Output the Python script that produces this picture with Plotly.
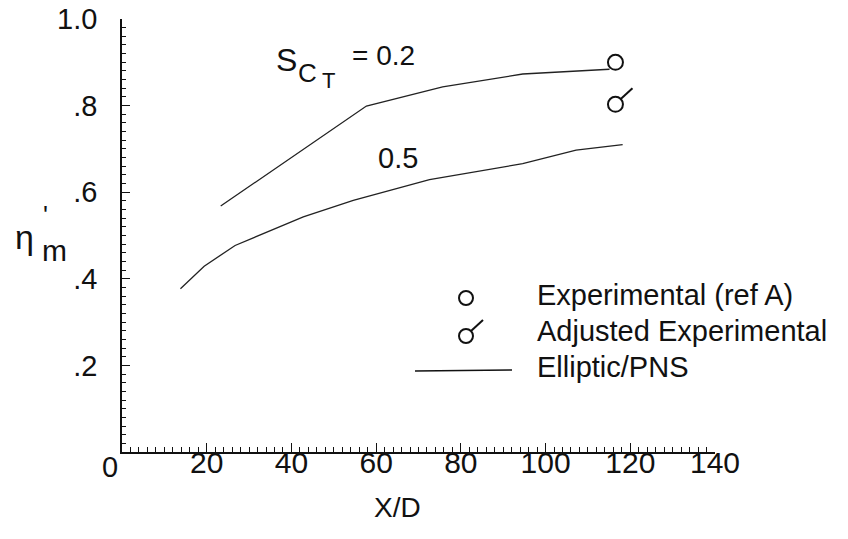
import plotly.graph_objects as go

# ---------------- data ----------------
xd_02 = [23.3, 57.7, 75.7, 94.6, 115.1]
eta_02 = [0.568, 0.799, 0.843, 0.873, 0.884]

xd_05 = [13.8, 19.4, 26.7, 42.8, 54.6, 72.6, 94.6, 107.2, 118.2]
eta_05 = [0.377, 0.429, 0.477, 0.543, 0.581, 0.629, 0.666, 0.697, 0.710]

exp_x = [116.5]
exp_y = [0.900]
adj_x = [116.5]
adj_y = [0.803]

x_tickvals = [20, 40, 60, 80, 100, 120, 140]
x_ticktext = ["20", "40", "60", "80", "100", "120", "140"]
y_tickvals = [0.2, 0.4, 0.6, 0.8, 1.0]
y_ticktext = [".2", ".4", ".6", ".8", "1.0"]

legend_labels = ["Experimental (ref A)", "Adjusted Experimental", "Elliptic/PNS"]

# ---------------- layout constants ----------------
W, H = 848, 539
L, R, T, B = 122, 715, 19, 452
FONT = "Liberation Sans, Arial, Helvetica, sans-serif"
INK = "#111111"


def px(xp):
    return (xp - L) / (R - L)


def py(yp):
    return (B - yp) / (B - T)


fig = go.Figure()

fig.add_trace(go.Scatter(x=xd_02, y=eta_02, mode="lines",
                         line=dict(color="#222222", width=1.3),
                         showlegend=False, hoverinfo="skip"))
fig.add_trace(go.Scatter(x=xd_05, y=eta_05, mode="lines",
                         line=dict(color="#222222", width=1.3),
                         showlegend=False, hoverinfo="skip"))
fig.add_trace(go.Scatter(x=exp_x, y=exp_y, mode="markers",
                         marker=dict(symbol="circle-open", size=15,
                                     color=INK, line=dict(width=2, color=INK)),
                         showlegend=False))
fig.add_trace(go.Scatter(x=adj_x, y=adj_y, mode="markers",
                         marker=dict(symbol="circle-open", size=15,
                                     color=INK, line=dict(width=2, color=INK)),
                         showlegend=False))

shapes = []
# flag tails on adjusted points
for xa, ya in zip(adj_x, adj_y):
    shapes.append(dict(type="line", xref="x", yref="y",
                       xsizemode="pixel", ysizemode="pixel",
                       xanchor=xa, yanchor=ya,
                       x0=5, y0=5, x1=17, y1=16,
                       line=dict(color=INK, width=2)))

# manual legend
leg_sym_x = 466
leg_rows_y = [298, 336, 371]
leg_text_x = 535
leg_text_y = [295, 331, 367]

shapes.append(dict(type="circle", xref="paper", yref="paper",
                   xsizemode="pixel", ysizemode="pixel",
                   xanchor=px(leg_sym_x), yanchor=py(leg_rows_y[0]),
                   x0=-7, x1=7, y0=-7, y1=7,
                   line=dict(color=INK, width=2)))
shapes.append(dict(type="circle", xref="paper", yref="paper",
                   xsizemode="pixel", ysizemode="pixel",
                   xanchor=px(leg_sym_x), yanchor=py(leg_rows_y[1]),
                   x0=-7, x1=7, y0=-7, y1=7,
                   line=dict(color=INK, width=2)))
shapes.append(dict(type="line", xref="paper", yref="paper",
                   xsizemode="pixel", ysizemode="pixel",
                   xanchor=px(leg_sym_x), yanchor=py(leg_rows_y[1]),
                   x0=5, y0=5, x1=17, y1=16,
                   line=dict(color=INK, width=2)))
shapes.append(dict(type="line", xref="paper", yref="paper",
                   x0=px(415), x1=px(512), y0=py(leg_rows_y[2]), y1=py(leg_rows_y[2] - 1),
                   line=dict(color=INK, width=1.5)))

annotations = []
for lab, yy in zip(legend_labels, leg_text_y):
    annotations.append(dict(text=lab, xref="paper", yref="paper",
                            x=px(leg_text_x), y=py(yy), xanchor="left", yanchor="middle",
                            showarrow=False, font=dict(family=FONT, size=29, color=INK)))


def txt(s, xp, yp, size):
    annotations.append(dict(text=s, xref="paper", yref="paper", x=px(xp), y=py(yp),
                            xanchor="center", yanchor="middle", showarrow=False,
                            font=dict(family=FONT, size=size, color=INK)))


# curve labels  S_{C_T} = 0.2  and 0.5
txt("S", 286, 60, 32)
txt("C", 307, 73, 26)
txt("T", 328, 80, 22)
txt("= 0.2", 383, 55, 28)
txt("0.5", 398, 158, 29)

# y-axis title  eta'_m
txt("\u03b7", 24, 237, 34)
txt("'", 45, 215, 26)
txt("m", 54, 250, 30)

# x-axis title and the origin label
txt("X/D", 397, 507, 28)
txt("0", 110, 467, 29)

fig.update_layout(
    width=W, height=H,
    margin=dict(l=L, r=W - R, t=T, b=H - B, pad=0, autoexpand=False),
    paper_bgcolor="white", plot_bgcolor="white",
    showlegend=False,
    font=dict(family=FONT, color=INK),
    shapes=shapes,
    annotations=annotations,
    xaxis=dict(range=[0, 140], showgrid=False, zeroline=False, automargin=False,
               showline=True, linecolor=INK, linewidth=1.5,
               tickmode="array", tickvals=x_tickvals, ticktext=x_ticktext,
               ticks="inside", ticklen=9, tickwidth=1.2, tickcolor=INK,
               ticklabelstandoff=-17,
               minor=dict(tickmode="linear", tick0=0, dtick=2, ticks="inside",
                          ticklen=5, tickwidth=1, tickcolor=INK),
               tickfont=dict(family=FONT, size=30, color=INK)),
    yaxis=dict(range=[0, 1.0], showgrid=False, zeroline=False, automargin=False,
               showline=True, linecolor=INK, linewidth=1.5,
               tickmode="array", tickvals=y_tickvals, ticktext=y_ticktext,
               ticks="inside", ticklen=8, tickwidth=1.2, tickcolor=INK,
               ticklabelstandoff=17,
               minor=dict(tickmode="linear", tick0=0, dtick=0.02, ticks="inside",
                          ticklen=4, tickwidth=1, tickcolor=INK),
               tickfont=dict(family=FONT, size=29, color=INK)),
)

fig.write_html("out.html")
